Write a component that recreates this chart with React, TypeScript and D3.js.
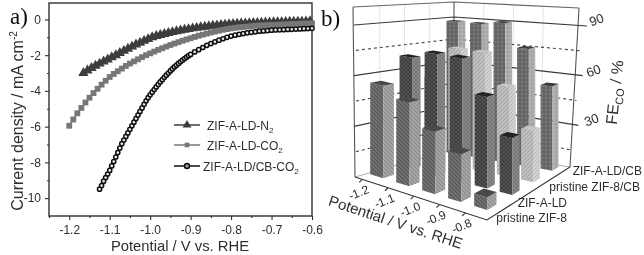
import React, { useRef, useEffect } from "react";
import * as d3 from "d3";

// a) polarisation curves
const n2Potential = [-1.165, -1.155, -1.145, -1.135, -1.125, -1.115, -1.105, -1.095, -1.085, -1.075, -1.065, -1.055, -1.045, -1.035, -1.025, -1.015, -1.005, -0.995, -0.985, -0.975, -0.965, -0.955, -0.945, -0.935, -0.925, -0.915, -0.905, -0.895, -0.885, -0.875, -0.865, -0.855, -0.845, -0.835, -0.825, -0.815, -0.805, -0.795, -0.785, -0.775, -0.765, -0.755, -0.745, -0.735, -0.725, -0.715, -0.705, -0.695, -0.685, -0.675, -0.665, -0.655, -0.645, -0.635, -0.625, -0.615, -0.605];
const n2Current = [-3.0, -2.86, -2.72, -2.59, -2.47, -2.35, -2.24, -2.12, -2.0, -1.88, -1.76, -1.64, -1.52, -1.4, -1.3, -1.2, -1.1, -1.0, -0.93, -0.87, -0.81, -0.76, -0.71, -0.66, -0.62, -0.58, -0.54, -0.5, -0.47, -0.44, -0.41, -0.38, -0.35, -0.33, -0.31, -0.29, -0.27, -0.25, -0.24, -0.23, -0.22, -0.21, -0.2, -0.19, -0.18, -0.17, -0.17, -0.16, -0.15, -0.15, -0.14, -0.13, -0.13, -0.12, -0.12, -0.11, -0.1];

const co2Potential = [-1.2, -1.19, -1.18, -1.17, -1.16, -1.15, -1.14, -1.13, -1.12, -1.11, -1.1, -1.09, -1.08, -1.07, -1.06, -1.05, -1.04, -1.03, -1.02, -1.01, -1.0, -0.99, -0.98, -0.97, -0.96, -0.95, -0.94, -0.93, -0.92, -0.91, -0.9, -0.89, -0.88, -0.87, -0.86, -0.85, -0.84, -0.83, -0.82, -0.81, -0.8, -0.79, -0.78, -0.77, -0.76, -0.75, -0.74, -0.73, -0.72, -0.71, -0.7, -0.69, -0.68, -0.67, -0.66, -0.65, -0.64, -0.63, -0.62, -0.61, -0.6];
const co2Current = [-5.95, -5.6, -5.25, -4.95, -4.65, -4.38, -4.12, -3.88, -3.65, -3.43, -3.22, -3.05, -2.9, -2.75, -2.6, -2.47, -2.35, -2.23, -2.11, -2.0, -1.9, -1.8, -1.7, -1.61, -1.52, -1.43, -1.35, -1.27, -1.19, -1.12, -1.05, -0.98, -0.91, -0.85, -0.79, -0.73, -0.68, -0.63, -0.58, -0.54, -0.5, -0.47, -0.44, -0.42, -0.4, -0.38, -0.36, -0.34, -0.33, -0.32, -0.31, -0.3, -0.29, -0.28, -0.27, -0.26, -0.25, -0.24, -0.23, -0.23, -0.22];

const cbPotential = [-1.125, -1.12, -1.115, -1.11, -1.105, -1.1, -1.095, -1.09, -1.085, -1.08, -1.075, -1.07, -1.065, -1.06, -1.055, -1.05, -1.045, -1.04, -1.035, -1.03, -1.025, -1.02, -1.015, -1.01, -1.005, -1.0, -0.995, -0.99, -0.985, -0.98, -0.975, -0.97, -0.965, -0.96, -0.955, -0.95, -0.945, -0.94, -0.935, -0.93, -0.925, -0.92, -0.915, -0.91, -0.905, -0.9, -0.89, -0.88, -0.87, -0.86, -0.85, -0.84, -0.83, -0.82, -0.81, -0.8, -0.79, -0.78, -0.77, -0.76, -0.75, -0.74, -0.73, -0.72, -0.71, -0.7, -0.69, -0.68, -0.67, -0.66, -0.65, -0.64, -0.63, -0.62, -0.61, -0.6];
const cbCurrent = [-9.5, -9.3, -9.05, -8.85, -8.65, -8.45, -8.2, -7.95, -7.7, -7.45, -7.2, -6.95, -6.75, -6.55, -6.35, -6.15, -5.95, -5.75, -5.55, -5.35, -5.15, -4.95, -4.75, -4.55, -4.38, -4.22, -4.07, -3.92, -3.78, -3.64, -3.5, -3.37, -3.24, -3.12, -3.0, -2.88, -2.77, -2.66, -2.56, -2.46, -2.37, -2.28, -2.19, -2.11, -2.03, -1.96, -1.82, -1.69, -1.57, -1.45, -1.35, -1.25, -1.16, -1.08, -1.0, -0.93, -0.88, -0.83, -0.79, -0.75, -0.72, -0.69, -0.66, -0.64, -0.62, -0.6, -0.59, -0.58, -0.57, -0.56, -0.55, -0.54, -0.53, -0.52, -0.51, -0.5];

const xMajor = [-1.2, -1.1, -1.0, -0.9, -0.8, -0.7, -0.6];
const xMinor = [-1.25, -1.15, -1.05, -0.95, -0.85, -0.75, -0.65];
const yMajor = [0, -2, -4, -6, -8, -10];
const yMinor = [-1, -3, -5, -7, -9];

// b) faradaic efficiency bars
const potentials = ["-1.2", "-1.1", "-1.0", "-0.9", "-0.8"];
const catalysts = ["pristine ZIF-8", "ZIF-A-LD", "pristine ZIF-8/CB", "ZIF-A-LD/CB"];
const feZif8 = [55, 49, 36, 27, 7];
const feLd = [69, 74, 74, 54, 33];
const feCb = [53, 74, 74, 55, 31];
const feLdCb = [88, 88, 90, 75, 53];
const feTicks = [90, 60, 30];
const feDashed = [75, 45, 15];

const INK = "#2e2e2e";

// stripe styles per catalyst
const barStyles = [
  { kind: "back", l: "#757575", ll: "#525252", r: "#a8a8a8", rl: "#8a8a8a", t: "#4a4a4a" },
  { kind: "cross", l: "#303030", ll: "#565656", r: "#8f8f8f", rl: "#767676", t: "#222222" },
  { kind: "fwd", l: "#c2c2c2", ll: "#a6a6a6", r: "#d4d4d4", rl: "#bcbcbc", t: "#c6c6c6" },
  { kind: "grid", l: "#5e5e5e", ll: "#7a7a7a", r: "#a2a2a2", rl: "#b6b6b6", t: "#3a3a3a" },
];

const App = () => {
  const svgRef = useRef<SVGSVGElement>(null);

  useEffect(() => {
    const svg = d3.select(svgRef.current);
    svg.selectAll("*").remove();

    const defs = svg.append("defs");
    defs.append("filter").attr("id", "soft").append("feGaussianBlur").attr("stdDeviation", 0.45);

    const makePattern = (id: string, kind: string, base: string, line: string) => {
      const p = defs
        .append("pattern")
        .attr("id", id)
        .attr("patternUnits", "userSpaceOnUse")
        .attr("width", 4)
        .attr("height", 4);
      p.append("rect").attr("width", 4).attr("height", 4).attr("fill", base);
      const seg = (d: string) =>
        p.append("path").attr("d", d).attr("stroke", line).attr("stroke-width", 1.1).attr("fill", "none");
      if (kind === "back" || kind === "cross") seg("M-1,-1L5,5M-1,3L1,5M3,-1L5,1");
      if (kind === "fwd" || kind === "cross") seg("M-1,5L5,-1M-1,1L1,-1M3,5L5,3");
      if (kind === "grid") seg("M0,2H4M2,0V4");
    };
    barStyles.forEach((s, i) => {
      makePattern(`left${i}`, s.kind, s.l, s.ll);
      makePattern(`right${i}`, s.kind, s.r, s.rl);
    });

    const root = svg.append("g").attr("filter", "url(#soft)");
    root.style("font-family", "'Liberation Sans', Arial, sans-serif");

    // ---------- a) ----------
    const x = d3.scaleLinear().domain([-1.25, -0.6]).range([49, 312]);
    const y = d3.scaleLinear().domain([0.92, -11]).range([3, 216]);

    const pa = root.append("g");
    pa.append("rect")
      .attr("x", 49)
      .attr("y", 3)
      .attr("width", 263)
      .attr("height", 213)
      .attr("fill", "none")
      .attr("stroke", INK)
      .attr("stroke-width", 1.4);

    const styleAxis = (g: any) => {
      g.select(".domain").remove();
      g.selectAll("line").attr("stroke", INK).attr("stroke-width", 1.1);
      g.selectAll("text").attr("fill", INK).style("font-size", "12px").style("font-family", "inherit");
    };
    pa.append("g")
      .attr("transform", "translate(0,216)")
      .call(d3.axisBottom(x).tickValues(xMajor).tickSize(4).tickPadding(5).tickFormat((d: any) => d.toFixed(1)))
      .call(styleAxis);
    pa.append("g")
      .attr("transform", "translate(0,216)")
      .call(d3.axisBottom(x).tickValues(xMinor).tickSize(2).tickFormat(() => ""))
      .call(styleAxis);
    pa.append("g")
      .attr("transform", "translate(49,0)")
      .call(d3.axisLeft(y).tickValues(yMajor).tickSize(4).tickPadding(4).tickFormat((d: any) => String(d)))
      .call(styleAxis);
    pa.append("g")
      .attr("transform", "translate(49,0)")
      .call(d3.axisLeft(y).tickValues(yMinor).tickSize(2).tickFormat(() => ""))
      .call(styleAxis);

    const drawSeries = (xs: number[], ys: number[], color: string, symbol: any, size: number, dot: boolean) => {
      const points = xs.map((v, i) => [x(v), y(ys[i])] as [number, number]);
      pa.append("path")
        .attr("d", d3.line()(points))
        .attr("fill", "none")
        .attr("stroke", color)
        .attr("stroke-width", 1.6);
      pa.append("g")
        .selectAll("path")
        .data(points)
        .enter()
        .append("path")
        .attr("transform", (d) => `translate(${d[0]},${d[1]})`)
        .attr("d", d3.symbol().type(symbol).size(size)())
        .attr("fill", dot ? "#e8e8e8" : color)
        .attr("stroke", dot ? "#111" : "none")
        .attr("stroke-width", dot ? 1.5 : 0);
    };
    drawSeries(n2Potential, n2Current, "#3c3c3c", d3.symbolTriangle, 46, false);
    drawSeries(co2Potential, co2Current, "#777777", d3.symbolSquare, 34, false);
    drawSeries(cbPotential, cbCurrent, "#111111", d3.symbolCircle, 14, true);

    // legend
    const legend = [
      { label: "ZIF-A-LD-N", sub: "2", color: "#3c3c3c", symbol: d3.symbolTriangle, size: 34, dot: false, ly: 125, tx: 207 },
      { label: "ZIF-A-LD-CO", sub: "2", color: "#777777", symbol: d3.symbolSquare, size: 22, dot: false, ly: 145, tx: 207 },
      { label: "ZIF-A-LD/CB-CO", sub: "2", color: "#111111", symbol: d3.symbolCircle, size: 20, dot: true, ly: 166, tx: 203 },
    ];
    legend.forEach((l) => {
      pa.append("line")
        .attr("x1", 174)
        .attr("x2", 200)
        .attr("y1", l.ly)
        .attr("y2", l.ly)
        .attr("stroke", l.color)
        .attr("stroke-width", 1.5);
      pa.append("path")
        .attr("transform", `translate(187,${l.ly})`)
        .attr("d", d3.symbol().type(l.symbol).size(l.size)())
        .attr("fill", l.dot ? "#999" : l.color)
        .attr("stroke", l.dot ? "#111" : "none")
        .attr("stroke-width", l.dot ? 1.4 : 0);
      const t = pa.append("text").attr("x", l.tx).attr("y", l.ly + 4.5).attr("fill", INK).style("font-size", "12px");
      t.append("tspan").text(l.label);
      t.append("tspan").attr("dy", 3).style("font-size", "8px").text(l.sub);
    });

    pa.append("text")
      .attr("x", 180)
      .attr("y", 251)
      .attr("text-anchor", "middle")
      .attr("fill", INK)
      .style("font-size", "14.8px")
      .text("Potential / V vs. RHE");
    const yTitle = pa
      .append("text")
      .attr("transform", "translate(23,121) rotate(-90)")
      .attr("text-anchor", "middle")
      .attr("fill", INK)
      .style("font-size", "16px");
    yTitle.append("tspan").text("Current density / mA cm");
    yTitle.append("tspan").attr("dy", -6).style("font-size", "10px").text("-2");

    pa.append("text")
      .attr("x", 10)
      .attr("y", 24)
      .attr("fill", "#111")
      .style("font-family", "'Liberation Serif', serif")
      .style("font-size", "23px")
      .text("a)");

    // ---------- b) ----------
    const pb = root.append("g");
    pb.append("text")
      .attr("x", 321)
      .attr("y", 26)
      .attr("fill", "#111")
      .style("font-family", "'Liberation Serif', serif")
      .style("font-size", "23px")
      .text("b)");

    // floor corners of the 3D box and px per % at each of them
    const cLeft = [355, 177, 1.69];
    const cFront = [487, 220, 1.85];
    const cRight = [570, 167, 1.57];
    const cBack = [454, 149, 1.47];
    const bilinear = (u: number, v: number, k: number) =>
      d3.interpolateNumber(
        d3.interpolateNumber(cLeft[k], cFront[k])(u),
        d3.interpolateNumber(cBack[k], cRight[k])(u)
      )(v);
    const uBand = d3.scaleBand().domain(potentials).range([0.02, 0.92]).paddingInner(0.5);
    const vBand = d3.scaleBand().domain(catalysts).range([0.076, 0.967]).paddingInner(0.663);
    // rows get closer together towards the back of the box
    const vDepth = d3.scalePow().exponent(0.8).domain([0, 1]).range([0, 1]);
    const fe = d3.scaleLinear().domain([0, 90]).range([0, 1]);
    const project = (u: number, v: number, value: number): [number, number] => [
      bilinear(u, vDepth(v), 0),
      bilinear(u, vDepth(v), 1) - fe(value) * 90 * bilinear(u, vDepth(v), 2),
    ];

    // walls
    const wallLine = (pts: [number, number][], extra: any = {}) => {
      const p = pb
        .append("path")
        .attr("d", d3.line()(pts))
        .attr("fill", "none")
        .attr("stroke", extra.color || "#444")
        .attr("stroke-width", extra.w || 1.1);
      if (extra.dash) p.attr("stroke-dasharray", extra.dash);
    };
    const topLeft: [number, number] = [353, 7];
    const topBack: [number, number] = [454, 2];
    const topRight: [number, number] = [579, 8];
    // faint wall grid
    [0.25, 0.5, 0.75].forEach((t) => {
      const bx = d3.interpolateNumber(cLeft[0], cBack[0])(t);
      const by = d3.interpolateNumber(cLeft[1], cBack[1])(t);
      const byTop = d3.interpolateNumber(topLeft[1], topBack[1])(t);
      wallLine([[bx, by], [bx, byTop]], { color: "#dddddd", w: 0.8 });
      const rx = d3.interpolateNumber(cBack[0], cRight[0])(t);
      const ry = d3.interpolateNumber(cBack[1], cRight[1])(t);
      const ryTop = d3.interpolateNumber(topBack[1], topRight[1])(t);
      wallLine([[rx, ry], [rx + 3 * t, ryTop]], { color: "#dddddd", w: 0.8 });
    });
    wallLine([[cLeft[0], cLeft[1]], topLeft], { color: "#555" });
    wallLine([[cBack[0], cBack[1]], topBack], { color: "#555" });
    wallLine([[cRight[0], cRight[1]], topRight], { color: "#555" });
    wallLine([topLeft, topBack, topRight], { color: "#666" });
    wallLine([[cLeft[0], cLeft[1]], [cBack[0], cBack[1]], [cRight[0], cRight[1]]], { color: "#999", w: 0.8 });

    // FE gridlines, left edge -> back edge -> right tick
    const leftWall = d3.scaleLinear().domain([0, 90]).range([cLeft[1], 25]);
    const backWall = d3.scaleLinear().domain([0, 90]).range([cBack[1], 17]);
    const rightWall = d3.scaleLinear().domain([0, 90]).range([cRight[1] + 8, 26]);
    const wallX = d3.scaleLinear().domain([0, 90]).range([574, 587]);
    feTicks.forEach((v) =>
      wallLine([[cLeft[0] - 1, leftWall(v)], [cBack[0], backWall(v)], [wallX(v), rightWall(v)]], { color: "#3a3a3a", w: 1.2 })
    );
    feDashed.forEach((v) =>
      wallLine([[cLeft[0] + 1, leftWall(v)], [cBack[0], backWall(v)], [wallX(v) - 4, rightWall(v)]], { color: "#444", w: 1.1, dash: "3,3" })
    );

    // floor axes
    wallLine([[cLeft[0], cLeft[1]], [cFront[0], cFront[1]], [cRight[0], cRight[1]]], { color: "#333", w: 1.1 });
    const xTickU = d3.scalePoint().domain(potentials).range([0.055, 0.835]);
    potentials.forEach((p) => {
      const u = xTickU(p) as number;
      const a = project(u, 0, 0);
      wallLine([a, [a[0] - 3, a[1] + 3]], { color: "#333" });
      pb.append("text")
        .attr("transform", `translate(${a[0] - 2},${a[1] + 17}) rotate(-22)`)
        .attr("text-anchor", "middle")
        .attr("fill", INK)
        .style("font-size", "12px")
        .text(p);
    });

    // bars, far row first so the near ones paint over them
    const feRows = [feZif8, feLd, feCb, feLdCb];
    d3.range(catalysts.length - 1, -1, -1).forEach((row) => {
      const v0 = vBand(catalysts[row]) as number;
      const v1 = v0 + vBand.bandwidth();
      potentials.forEach((p, col) => {
        const u0 = uBand(p) as number;
        const u1 = u0 + uBand.bandwidth();
        const value = feRows[row][col];
        const poly = (pts: [number, number][], fill: string) =>
          pb.append("path").attr("d", d3.line().curve(d3.curveLinearClosed)(pts)).attr("fill", fill).attr("stroke", "none");
        poly(
          [project(u0, v0, 0), project(u1, v0, 0), project(u1, v0, value), project(u0, v0, value)],
          `url(#left${row})`
        );
        poly(
          [project(u1, v0, 0), project(u1, v1, 0), project(u1, v1, value), project(u1, v0, value)],
          `url(#right${row})`
        );
        poly(
          [project(u0, v0, value), project(u1, v0, value), project(u1, v1, value), project(u0, v1, value)],
          barStyles[row].t
        );
      });
    });

    // FE labels
    const feLabelPos = [
      [598, 24],
      [595, 75],
      [593, 124],
    ];
    feTicks.forEach((v, i) => {
      pb.append("text")
        .attr("transform", `translate(${feLabelPos[i][0]},${feLabelPos[i][1]}) rotate(-20)`)
        .attr("text-anchor", "middle")
        .attr("fill", INK)
        .style("font-size", "13px")
        .text(v);
    });
    const feTitle = pb
      .append("text")
      .attr("transform", "translate(620,93) rotate(-84)")
      .attr("text-anchor", "middle")
      .attr("fill", INK)
      .style("font-size", "16px");
    feTitle.append("tspan").text("FE");
    feTitle.append("tspan").attr("dy", 4).style("font-size", "11px").text("CO");
    feTitle.append("tspan").attr("dy", -4).text(" / %");

    // catalyst labels, right aligned along the floor edge
    const rowLabelEnd = [
      [567, 222],
      [567, 207],
      [640, 191],
      [642, 175],
    ];
    catalysts.forEach((c, i) => {
      pb.append("text")
        .attr("x", rowLabelEnd[i][0])
        .attr("y", rowLabelEnd[i][1])
        .attr("text-anchor", "end")
        .attr("fill", INK)
        .style("font-size", "12px")
        .text(c);
    });

    pb.append("text")
      .attr("transform", "translate(394,227) rotate(18.3)")
      .attr("text-anchor", "middle")
      .attr("fill", INK)
      .style("font-size", "15px")
      .text("Potential / V vs. RHE");
  }, []);

  return <svg ref={svgRef} width={644} height={255} style={{ position: "absolute", left: 0, top: 0, background: "#fff" }}></svg>;
};

export default App;
